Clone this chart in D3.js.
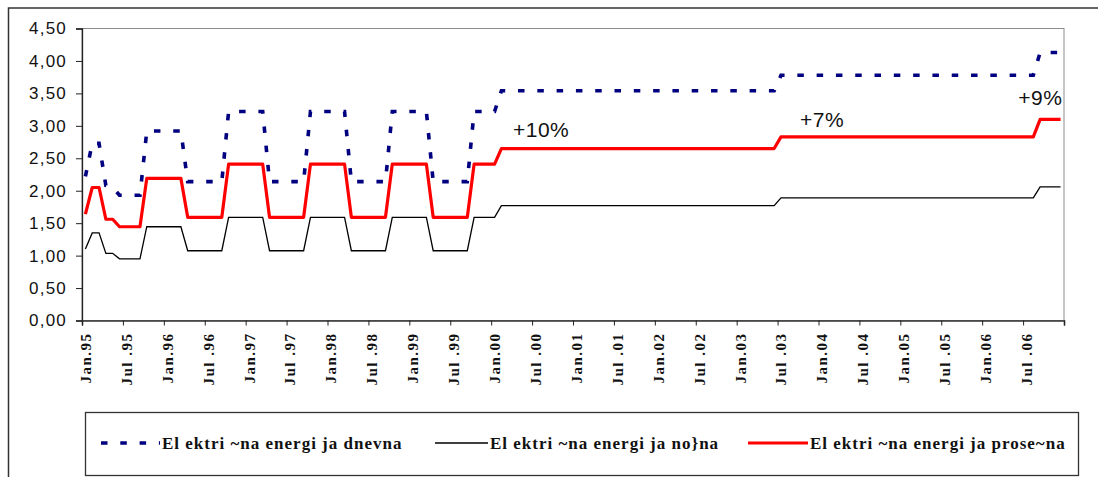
<!DOCTYPE html>
<html>
<head>
<meta charset="utf-8">
<script src="https://cdn.jsdelivr.net/npm/d3@7"></script>
<style>
  body { margin: 0; background: #fff; }
  svg { display: block; }
</style>
</head>
<body>
<svg id="chart" width="1098" height="477"></svg>
<script>
// categories: monthly, Jan.95 .. Dec.06
var years = ["95","96","97","98","99","00","01","02","03","04","05","06"];
var monthNames = ["Jan","Feb","Mar","Apr","May","Jun","Jul","Aug","Sep","Oct","Nov","Dec"];
var months = [];
years.forEach(function(y) { monthNames.forEach(function(m) { months.push(m + "." + y) }) });

// tick labels on the category axis (every 6 months)
var tickLabels = ["Jan.95","Jul .95","Jan.96","Jul .96","Jan.97","Jul .97","Jan.98","Jul .98",
    "Jan.99","Jul .99","Jan.00","Jul .00","Jan.01","Jul .01","Jan.02","Jul .02",
    "Jan.03","Jul .03","Jan.04","Jul .04","Jan.05","Jul .05","Jan.06","Jul .06"];

var yTicks = [0, 0.5, 1, 1.5, 2, 2.5, 3, 3.5, 4, 4.5];

// Elektri~na energija dnevna (one row per year)
var dnevna = [
    2.22, 2.73, 2.73, 2.08, 2.05, 1.93, 1.93, 1.93, 1.93, 2.92, 2.92, 2.92,
    2.92, 2.92, 2.92, 2.14, 2.14, 2.14, 2.14, 2.14, 2.14, 3.22, 3.22, 3.22,
    3.22, 3.22, 3.22, 2.14, 2.14, 2.14, 2.14, 2.14, 2.14, 3.22, 3.22, 3.22,
    3.22, 3.22, 3.22, 2.14, 2.14, 2.14, 2.14, 2.14, 2.14, 3.22, 3.22, 3.22,
    3.22, 3.22, 3.22, 2.14, 2.14, 2.14, 2.14, 2.14, 2.14, 3.22, 3.22, 3.22,
    3.22, 3.54, 3.54, 3.54, 3.54, 3.54, 3.54, 3.54, 3.54, 3.54, 3.54, 3.54,
    3.54, 3.54, 3.54, 3.54, 3.54, 3.54, 3.54, 3.54, 3.54, 3.54, 3.54, 3.54,
    3.54, 3.54, 3.54, 3.54, 3.54, 3.54, 3.54, 3.54, 3.54, 3.54, 3.54, 3.54,
    3.54, 3.54, 3.54, 3.54, 3.54, 3.54, 3.78, 3.78, 3.78, 3.78, 3.78, 3.78,
    3.78, 3.78, 3.78, 3.78, 3.78, 3.78, 3.78, 3.78, 3.78, 3.78, 3.78, 3.78,
    3.78, 3.78, 3.78, 3.78, 3.78, 3.78, 3.78, 3.78, 3.78, 3.78, 3.78, 3.78,
    3.78, 3.78, 3.78, 3.78, 3.78, 3.78, 3.78, 3.78, 4.13, 4.13, 4.13, 4.13
];

// Elektri~na energija no}na
var nocna = [
    1.10, 1.35, 1.35, 1.035, 1.035, 0.95, 0.95, 0.95, 0.95, 1.445, 1.445, 1.445,
    1.445, 1.445, 1.445, 1.075, 1.075, 1.075, 1.075, 1.075, 1.075, 1.59, 1.59, 1.59,
    1.59, 1.59, 1.59, 1.075, 1.075, 1.075, 1.075, 1.075, 1.075, 1.59, 1.59, 1.59,
    1.59, 1.59, 1.59, 1.075, 1.075, 1.075, 1.075, 1.075, 1.075, 1.59, 1.59, 1.59,
    1.59, 1.59, 1.59, 1.075, 1.075, 1.075, 1.075, 1.075, 1.075, 1.59, 1.59, 1.59,
    1.59, 1.77, 1.77, 1.77, 1.77, 1.77, 1.77, 1.77, 1.77, 1.77, 1.77, 1.77,
    1.77, 1.77, 1.77, 1.77, 1.77, 1.77, 1.77, 1.77, 1.77, 1.77, 1.77, 1.77,
    1.77, 1.77, 1.77, 1.77, 1.77, 1.77, 1.77, 1.77, 1.77, 1.77, 1.77, 1.77,
    1.77, 1.77, 1.77, 1.77, 1.77, 1.77, 1.89, 1.89, 1.89, 1.89, 1.89, 1.89,
    1.89, 1.89, 1.89, 1.89, 1.89, 1.89, 1.89, 1.89, 1.89, 1.89, 1.89, 1.89,
    1.89, 1.89, 1.89, 1.89, 1.89, 1.89, 1.89, 1.89, 1.89, 1.89, 1.89, 1.89,
    1.89, 1.89, 1.89, 1.89, 1.89, 1.89, 1.89, 1.89, 2.06, 2.06, 2.06, 2.06
];

// Elektri~na energija prose~na
var prosecna = [
    1.64, 2.05, 2.05, 1.56, 1.56, 1.445, 1.445, 1.445, 1.445, 2.19, 2.19, 2.19,
    2.19, 2.19, 2.19, 1.59, 1.59, 1.59, 1.59, 1.59, 1.59, 2.41, 2.41, 2.41,
    2.41, 2.41, 2.41, 1.59, 1.59, 1.59, 1.59, 1.59, 1.59, 2.41, 2.41, 2.41,
    2.41, 2.41, 2.41, 1.59, 1.59, 1.59, 1.59, 1.59, 1.59, 2.41, 2.41, 2.41,
    2.41, 2.41, 2.41, 1.59, 1.59, 1.59, 1.59, 1.59, 1.59, 2.41, 2.41, 2.41,
    2.41, 2.65, 2.65, 2.65, 2.65, 2.65, 2.65, 2.65, 2.65, 2.65, 2.65, 2.65,
    2.65, 2.65, 2.65, 2.65, 2.65, 2.65, 2.65, 2.65, 2.65, 2.65, 2.65, 2.65,
    2.65, 2.65, 2.65, 2.65, 2.65, 2.65, 2.65, 2.65, 2.65, 2.65, 2.65, 2.65,
    2.65, 2.65, 2.65, 2.65, 2.65, 2.65, 2.83, 2.83, 2.83, 2.83, 2.83, 2.83,
    2.83, 2.83, 2.83, 2.83, 2.83, 2.83, 2.83, 2.83, 2.83, 2.83, 2.83, 2.83,
    2.83, 2.83, 2.83, 2.83, 2.83, 2.83, 2.83, 2.83, 2.83, 2.83, 2.83, 2.83,
    2.83, 2.83, 2.83, 2.83, 2.83, 2.83, 2.83, 2.83, 3.10, 3.10, 3.10, 3.10
];

// price increase notes: [text, month position, value]
var notes = [["+10%", 63.2, 2.83], ["+7%", 105.3, 2.98], ["+9%", 137.3, 3.32]];

var legendNames = ["El ektri ~na energi ja dnevna", "El ektri ~na energi ja no}na", "El ektri ~na energi ja prose~na"];

var svg = d3.select("#chart");

// outer chart frame (runs off the right/bottom edge)
svg.append("rect")
    .attr("x", 8.5).attr("y", 8)
    .attr("width", 1200).attr("height", 600)
    .attr("fill", "#fff").attr("stroke", "#333").attr("stroke-width", 1.5);

var plotLeft = 82, plotRight = 1064, plotTop = 28.5, plotBottom = 320.5;

var x = d3.scaleLinear().domain([0, months.length]).range([plotLeft, plotRight]);
var y = d3.scaleLinear().domain([0, 4.5]).range([plotBottom, plotTop]);

// plot area border
svg.append("rect")
    .attr("x", plotLeft).attr("y", plotTop)
    .attr("width", plotRight - plotLeft).attr("height", plotBottom - plotTop)
    .attr("fill", "none").attr("stroke", "#8c8c8c").attr("stroke-width", 1);

var commaFmt = d3.formatLocale({decimal: ",", thousands: ".", grouping: [3], currency: ["", ""]}).format(".2f");

// y axis
var yAxis = svg.append("g")
    .attr("transform", "translate(" + plotLeft + ",0)")
    .call(d3.axisLeft(y).tickValues(yTicks).tickSize(6).tickPadding(9).tickFormat(commaFmt));
yAxis.select(".domain").attr("stroke", "#222").attr("stroke-width", 1.3);
yAxis.selectAll(".tick line").attr("stroke", "#222");
yAxis.selectAll("text")
    .attr("font-family", "Liberation Sans, Arial, sans-serif")
    .attr("font-size", 17).attr("letter-spacing", 1.2).attr("fill", "#111");

// x axis (category axis, ticks on boundaries every 6 months)
var xAxis = svg.append("g")
    .attr("transform", "translate(0," + plotBottom + ")")
    .call(d3.axisBottom(x).tickValues(d3.range(0, months.length + 1, 6)).tickSize(5).tickFormat(""));
xAxis.select(".domain").attr("stroke", "#333").attr("stroke-width", 1.6);
xAxis.selectAll(".tick line").attr("stroke", "#222");

svg.append("g").selectAll("text")
    .data(tickLabels)
    .enter().append("text")
    .attr("transform", function(d, i) {
        return "translate(" + (x(i * 6 + 0.5) + 5.5) + "," + (plotBottom + 12) + ") rotate(-90)" })
    .attr("text-anchor", "end")
    .attr("font-family", "Liberation Serif, Times New Roman, serif")
    .attr("font-weight", "bold")
    .attr("font-size", 15).attr("letter-spacing", 1.5)
    .attr("fill", "#111")
    .text(function(d) { return d });

var line = d3.line()
    .x(function(d, i) { return x(i + 0.5) })
    .y(function(d) { return y(d) });

svg.append("path").datum(nocna)
    .attr("fill", "none").attr("stroke", "#000").attr("stroke-width", 1.3)
    .attr("d", line);

svg.append("path").datum(prosecna)
    .attr("fill", "none").attr("stroke", "#ff0000").attr("stroke-width", 3.2)
    .attr("stroke-linejoin", "round")
    .attr("d", line);

svg.append("path").datum(dnevna)
    .attr("fill", "none").attr("stroke", "#000080").attr("stroke-width", 3.6)
    .attr("stroke-dasharray", "6.5,12.8")
    .attr("d", line);

// notes
svg.append("g").selectAll("text")
    .data(notes)
    .enter().append("text")
    .attr("x", function(d) { return x(d[1]) })
    .attr("y", function(d) { return y(d[2]) })
    .attr("font-family", "Liberation Sans, Arial, sans-serif")
    .attr("font-size", 21).attr("letter-spacing", 0.5).attr("fill", "#111")
    .text(function(d) { return d[0] });

// legend
svg.append("rect")
    .attr("x", 85.5).attr("y", 412.5)
    .attr("width", 993).attr("height", 63)
    .attr("fill", "#fff").attr("stroke", "#333").attr("stroke-width", 1.3);

var legendItems = [
    {x0: 101, x1: 160, color: "#000080", width: 3.6, dash: "6.5,12.8"},
    {x0: 435, x1: 488, color: "#000", width: 1.3, dash: null},
    {x0: 748, x1: 808, color: "#ff0000", width: 3.2, dash: null}
];
var legendY = 443;
legendItems.forEach(function(item, i) {
    svg.append("line")
        .attr("x1", item.x0).attr("x2", item.x1)
        .attr("y1", legendY).attr("y2", legendY)
        .attr("stroke", item.color).attr("stroke-width", item.width)
        .attr("stroke-dasharray", item.dash);
    svg.append("text")
        .attr("x", item.x1 + 2).attr("y", legendY + 6)
        .attr("font-family", "Liberation Serif, Times New Roman, serif")
        .attr("font-weight", "bold")
        .attr("font-size", 17).attr("letter-spacing", 1)
        .attr("fill", "#111")
        .text(legendNames[i]);
});
</script>
</body>
</html>
